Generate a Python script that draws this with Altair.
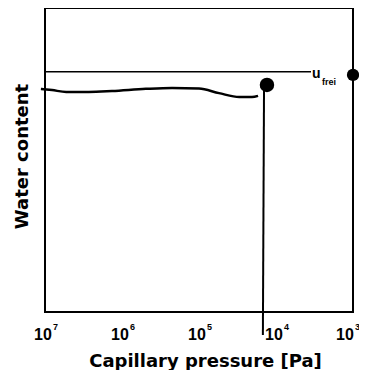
import altair as alt
import pandas as pd

# Hand-drawn retention curve (pressure [Pa], relative water content)
curve_p = [1.13e7, 8.1e6, 5.3e6, 2.7e6, 1.35e6, 4.9e5, 2.24e5, 1.0e5, 5.5e4, 3.0e4, 2.05e4, 1.71e4]
curve_w = [0.734, 0.730, 0.724, 0.724, 0.727, 0.734, 0.737, 0.735, 0.720, 0.707, 0.707, 0.711]

# vertical drop line
drop_p = [1.43e4, 1.48e4]
drop_w = [0.747, -0.076]

# points
pt_p = [1.31e4, 1000]
pt_w = [0.747, 0.780]
pt_size = [210, 150]

# u_frei level line
ufrei_p = [1e7, 3510]
ufrei_w = [0.79, 0.79]

# tick labels 10^n (mantissa + exponent drawn as text)
tick_vals = [1e7, 1e6, 1e5, 1e4]
tick_exps = ["7", "6", "5", "4"]
last_val = [1e3]
last_exp = ["3"]
mant_w = -0.092
exp_w = -0.059

FONT = "Liberation Sans"
TFONT = "DejaVu Sans"

xscale = alt.Scale(type="log", domain=[1e7, 1e3])
yscale = alt.Scale(domain=[0, 1])

xaxis = alt.Axis(
    values=tick_vals + last_val, labels=False, grid=False, ticks=False, domain=False,
    title="Capillary pressure [Pa]", titleFont=TFONT, titleFontSize=18,
    titleFontWeight="bold", titleColor="black", titlePadding=40, titleX=160,
)
yaxis = alt.Axis(
    labels=False, ticks=False, domain=False, grid=False,
    title="Water content", titleFont=TFONT, titleFontSize=18,
    titleFontWeight="bold", titleColor="black", titlePadding=14, titleY=148,
)

curve_df = pd.DataFrame({"p": curve_p, "w": curve_w, "o": range(len(curve_p))})
drop_df = pd.DataFrame({"p": drop_p, "w": drop_w, "o": range(len(drop_p))})
pt_df = pd.DataFrame({"p": pt_p, "w": pt_w, "s": pt_size})
uf_df = pd.DataFrame({"p": ufrei_p, "w": ufrei_w, "o": [0, 1]})
lab_df = pd.DataFrame({"p": [3400], "w": [0.770], "t": ["u"]})
sub_df = pd.DataFrame({"p": [2530], "w": [0.747], "t": ["frei"]})
mant_df = pd.DataFrame({"p": tick_vals, "w": [mant_w] * len(tick_vals), "t": ["10"] * len(tick_vals)})
exp_df = pd.DataFrame({"p": tick_vals, "w": [exp_w] * len(tick_vals), "t": tick_exps})
mant_last_df = pd.DataFrame({"p": last_val, "w": [mant_w], "t": ["10"]})
exp_last_df = pd.DataFrame({"p": last_val, "w": [exp_w], "t": last_exp})

base_x = alt.X("p:Q", scale=xscale, axis=xaxis)
base_y = alt.Y("w:Q", scale=yscale, axis=yaxis)

uf = alt.Chart(uf_df).mark_line(color="black", strokeWidth=1.5).encode(
    x=base_x, y=base_y, order="o:Q")
curve = alt.Chart(curve_df).mark_line(color="black", strokeWidth=2.5, interpolate="monotone").encode(
    x="p:Q", y="w:Q", order="o:Q")
drop = alt.Chart(drop_df).mark_line(color="black", strokeWidth=2).encode(
    x="p:Q", y="w:Q", order="o:Q")
pts = alt.Chart(pt_df).mark_circle(color="black", opacity=1).encode(
    x="p:Q", y="w:Q", size=alt.Size("s:Q", scale=None, legend=None))


def txt(df, size, align, dx=0):
    return alt.Chart(df).mark_text(
        font=FONT, fontSize=size, fontWeight="bold", align=align,
        baseline="alphabetic", color="black", dx=dx,
    ).encode(x="p:Q", y="w:Q", text="t:N")


lab = txt(lab_df, 14, "left")
sub = txt(sub_df, 9, "left")
mant = txt(mant_df, 16, "center", dx=-2)
exps = txt(exp_df, 9, "left", dx=8)
mant_last = txt(mant_last_df, 16, "center", dx=-8)
exp_last = txt(exp_last_df, 9, "left", dx=2)

chart = alt.layer(uf, curve, drop, pts, lab, sub, mant, exps, mant_last, exp_last).properties(
    width=308, height=304,
    autosize=alt.AutoSizeParams(type="none"),
    padding={"left": 37, "top": 0, "right": 6, "bottom": 58},
).configure_view(stroke="black", strokeWidth=2)

chart.save("out.html", embed_options={"renderer": "svg", "actions": False})
